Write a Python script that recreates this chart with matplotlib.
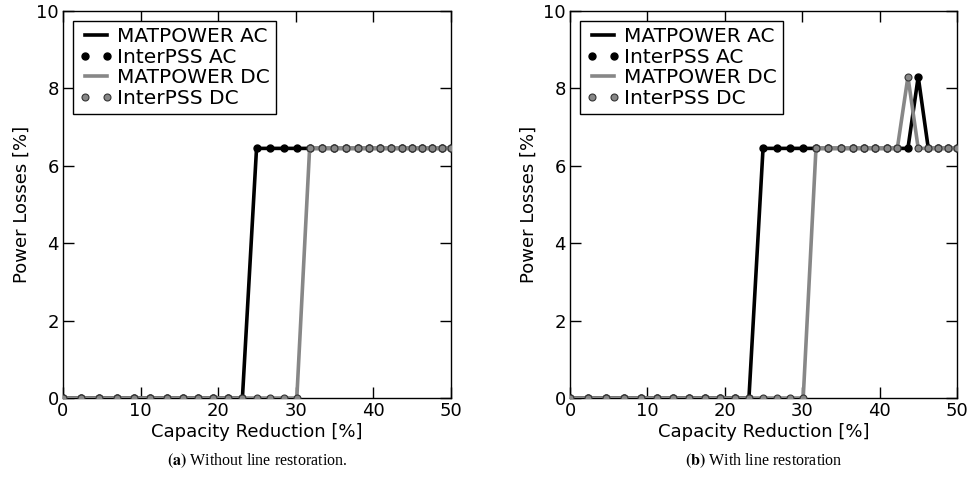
import matplotlib.pyplot as plt

capacity = [0.0, 2.36, 4.67, 6.92, 9.12, 11.26, 13.36, 15.41, 17.41, 19.36,
            21.26, 23.12, 24.94, 26.71, 28.44, 30.13, 31.78, 33.39, 34.97, 36.50,
            38.00, 39.47, 40.90, 42.29, 43.66, 44.99, 46.29, 47.55, 48.79, 50.0]

# (a) without line restoration
ac_a = [0.0] * 12 + [6.45] * 18
dc_a = [0.0] * 16 + [6.45] * 14

# (b) with line restoration
ac_b = [0.0] * 12 + [6.45] * 13 + [8.3] + [6.45] * 4
dc_b = [0.0] * 16 + [6.45] * 8 + [8.3] + [6.45] * 5

captions = [(r'$\mathbf{(a)}$', ' Without line restoration.'),
            (r'$\mathbf{(b)}$', ' With line restoration')]

GRAY = '#878787'


def draw_panel(ax, ac, dc):
    ax.plot(capacity, ac, color='black', lw=2.6, label='MATPOWER AC', zorder=2)
    ax.plot(capacity, ac, ls='none', marker='o', ms=5, color='black',
            label='InterPSS AC', zorder=3)
    ax.plot(capacity, dc, color=GRAY, lw=2.6, label='MATPOWER DC', zorder=4)
    ax.plot(capacity, dc, ls='none', marker='o', ms=5, mfc=GRAY, mec='#333333',
            mew=0.8, label='InterPSS DC', zorder=5)
    ax.set_xlim(0, 50)
    ax.set_ylim(0, 10)
    ax.set_xticks(range(0, 51, 10))
    ax.set_yticks(range(0, 11, 2))
    ax.tick_params(direction='in', top=True, right=True, length=8, width=1,
                   labelsize=13, pad=3)
    for s in ax.spines.values():
        s.set_linewidth(1.0)
    ax.set_xlabel('Capacity Reduction [%]', fontsize=13, labelpad=2)
    ax.set_ylabel('Power Losses [%]', fontsize=13, labelpad=4)
    leg = ax.legend(loc='upper left', numpoints=2, fontsize=14.5, fancybox=False,
                    framealpha=1, edgecolor='black', handlelength=1.7,
                    handletextpad=0.2, borderpad=0.3, labelspacing=0.08,
                    borderaxespad=0.5)
    leg.get_frame().set_linewidth(1.0)


fig = plt.figure(figsize=(9.74, 5.01), dpi=100)
ax1 = fig.add_axes([63 / 974, 103 / 501, 388 / 974, 387 / 501])
ax2 = fig.add_axes([570 / 974, 103 / 501, 387 / 974, 387 / 501])

draw_panel(ax1, ac_a, dc_a)
draw_panel(ax2, ac_b, dc_b)

for ax, (tag, text) in zip([ax1, ax2], captions):
    cx = (ax.get_position().x0 + ax.get_position().x1) / 2
    fig.text(cx, 40 / 501, tag + text, ha='center', va='center',
             fontsize=11.5, family='Liberation Serif',
             math_fontfamily='stix')

fig.savefig('out.png', dpi=100)
